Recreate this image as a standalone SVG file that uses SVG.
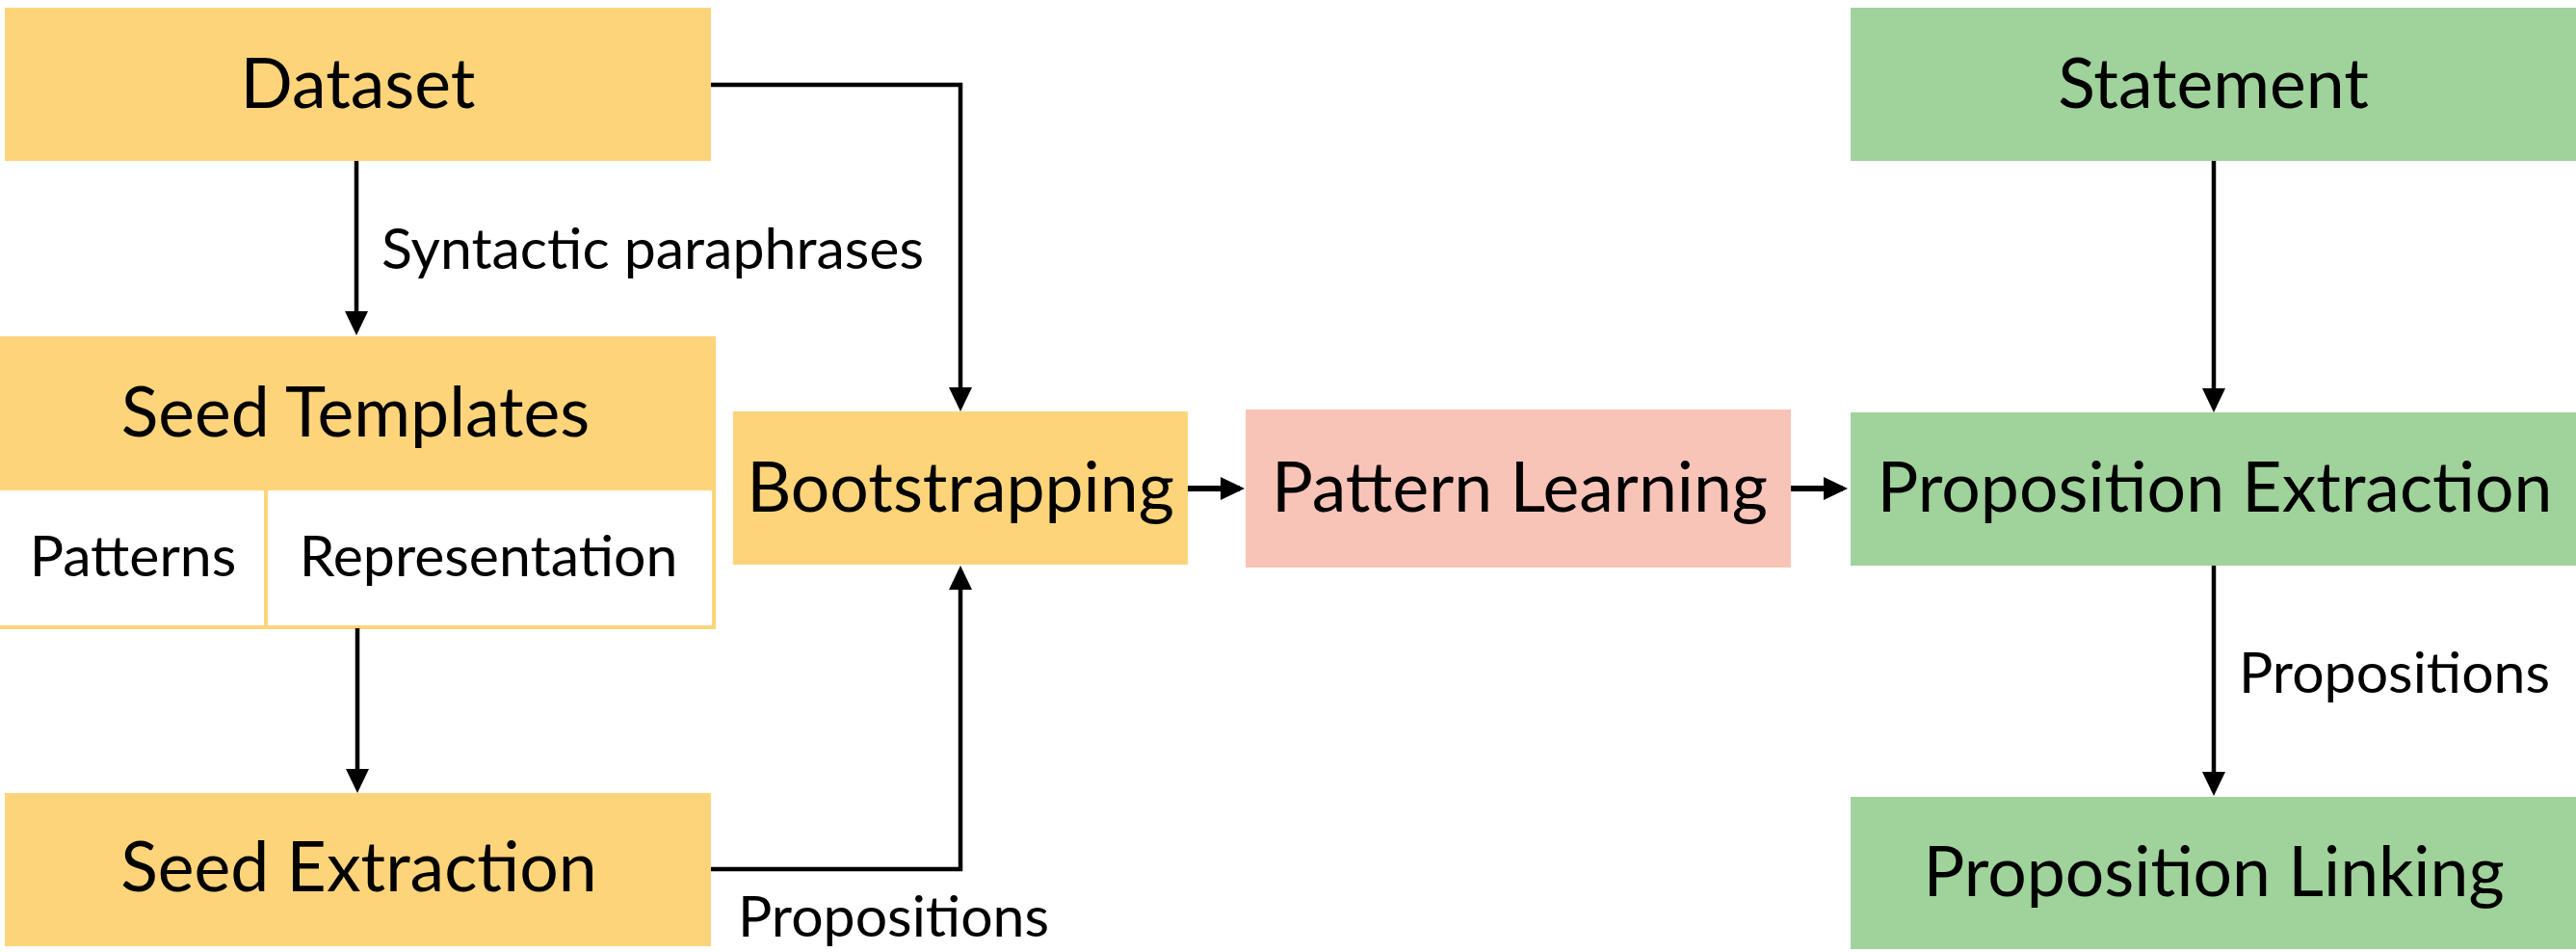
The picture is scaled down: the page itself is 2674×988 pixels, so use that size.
<svg xmlns="http://www.w3.org/2000/svg" width="2674" height="988" viewBox="0 0 2674 988">
<style>
.y{fill:#FED47B}
.g{fill:#A0D29B}
.p{fill:#F9C4B8}
.big{font-family:Lato,"Liberation Sans",sans-serif;font-size:71.5px;fill:#000;text-anchor:middle}
.sm{font-family:Lato,"Liberation Sans",sans-serif;font-size:59px;fill:#000}
.c{text-anchor:middle}
.ln{fill:none;stroke:#000;stroke-width:4.5}
.th{stroke-width:6}
</style>
<defs>
<marker id="ah" markerUnits="userSpaceOnUse" markerWidth="30" markerHeight="30" refX="20" refY="12" orient="auto">
<path d="M0,0 L25,12 L0,24 Z" fill="#000"/>
</marker>
</defs>
<rect width="2674" height="988" fill="#fff"/>
<g id="dataset"><rect class="y" x="5" y="8" width="733" height="159"/><text class="big" x="371.5" y="112">Dataset</text></g>
<g id="seed-templates">
<rect class="y" x="0" y="349" width="743" height="159"/>
<text class="big" x="369" y="453">Seed Templates</text>
<rect x="-2" y="507" width="743" height="144" fill="#fff" stroke="#FED47B" stroke-width="4"/>
<line x1="276" y1="508" x2="276" y2="650" stroke="#FED47B" stroke-width="4"/>
<text class="sm c" x="138" y="598">Patterns</text>
<text class="sm c" x="507" y="598">Representation</text>
</g>
<g id="seed-extraction"><rect class="y" x="5" y="823" width="733" height="159"/><text class="big" x="372.5" y="925">Seed Extraction</text></g>
<g id="bootstrapping"><rect class="y" x="761" y="427" width="472" height="159"/><text class="big" x="997" y="531">Bootstrapping</text></g>
<g id="pattern-learning"><rect class="p" x="1293" y="425" width="566" height="164"/><text class="big" x="1577.5" y="531">Pattern Learning</text></g>
<g id="statement"><rect class="g" x="1921" y="8" width="753" height="159"/><text class="big" x="2297.5" y="112">Statement</text></g>
<g id="proposition-extraction"><rect class="g" x="1921" y="428" width="753" height="159"/><text class="big" x="2299" y="531">Proposition Extraction</text></g>
<g id="proposition-linking"><rect class="g" x="1921" y="827" width="753" height="158"/><text class="big" x="2298" y="930">Proposition Linking</text></g>
<g id="connectors">
<path class="ln" d="M370,167 L370,343" marker-end="url(#ah)"/>
<path class="ln" d="M371,652 L371,818" marker-end="url(#ah)"/>
<path class="ln" d="M738,88 L997,88 L997,422" marker-end="url(#ah)"/>
<path class="ln" d="M738,902 L997,902 L997,592" marker-end="url(#ah)"/>
<path class="ln th" d="M1233,507 L1287,507" marker-end="url(#ah)"/>
<path class="ln th" d="M1859,507 L1913,507" marker-end="url(#ah)"/>
<path class="ln" d="M2298,167 L2298,423" marker-end="url(#ah)"/>
<path class="ln" d="M2298,587 L2298,821" marker-end="url(#ah)"/>
<text class="sm" x="396" y="279">Syntactic paraphrases</text>
<text class="sm" x="766" y="972">Propositions</text>
<text class="sm" x="2324" y="719">Propositions</text>
</g>
</svg>
